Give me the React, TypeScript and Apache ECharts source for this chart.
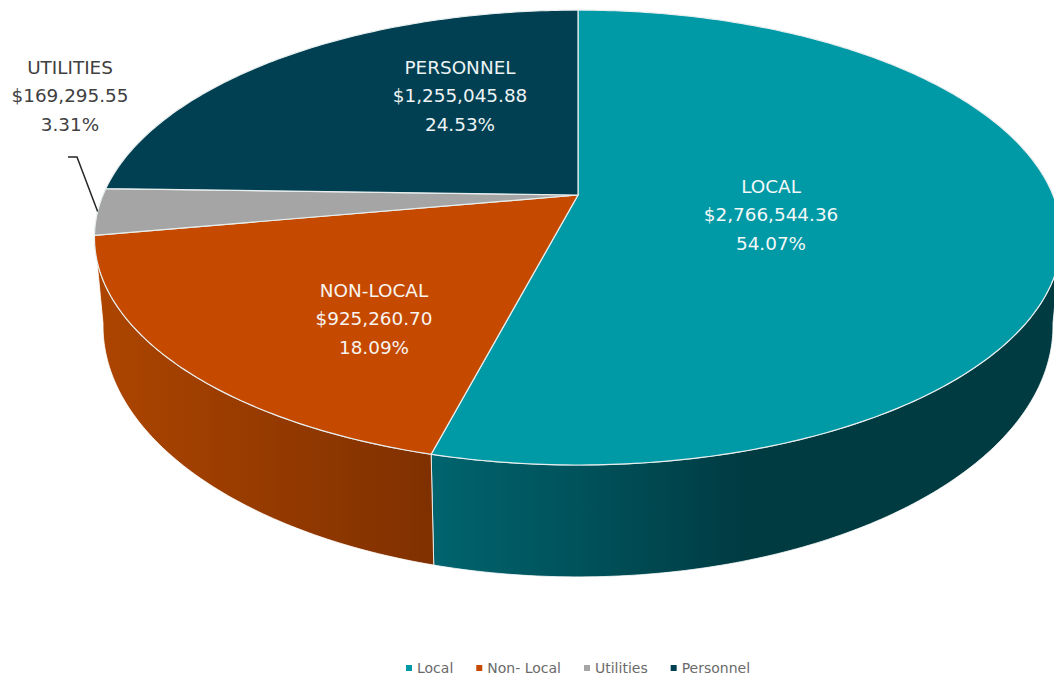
import React, { useEffect, useRef } from "react";
import * as echarts from "echarts";

const categories = ["Local", "Non- Local", "Utilities", "Personnel"];
const labelNames = ["LOCAL", "NON-LOCAL", "UTILITIES", "PERSONNEL"];
const amounts = [2766544.36, 925260.7, 169295.55, 1255045.88];
const amountLabels = ["$2,766,544.36", "$925,260.70", "$169,295.55", "$1,255,045.88"];
const percentLabels = ["54.07%", "18.09%", "3.31%", "24.53%"];
const topColors = ["#0099a6", "#c54a00", "#a5a5a5", "#004052"];
const wallStops: [number, string][][] = [
  [[0, "#00646e"], [0.27, "#004f58"], [0.5, "#003b42"], [1, "#003b42"]],
  [[0, "#ad4500"], [1, "#7f3000"]],
  [],
  [],
];
const labelAnchors = [[771, 186.5], [374, 290.5], [70, 67.5], [460, 67.5]];
const labelColors = ["#f4f8f8", "#f8f4f0", "#404040", "#eef3f4"];

const W = 1054;
const H = 678;
const PERSPECTIVE = -0.187;
const TOP_PLANE = { cx: 578, cy: 195, rx: 475, ry: 219.5 };
const BOTTOM_PLANE = { cx: 578, cy: 279, rx: 466.6, ry: 242.2 };
const FRONT_FROM = 100.2;
const FRONT_TO = 259.8;
const FONT = "DejaVu Sans";

type Plane = typeof TOP_PLANE;

function project(plane: Plane, deg: number): number[] {
  const a = (deg * Math.PI) / 180;
  const u = Math.sin(a);
  const v = -Math.cos(a);
  const d = 1 + PERSPECTIVE * v;
  return [plane.cx + (plane.rx * u) / d, plane.cy + (plane.ry * v) / d];
}

function arc(plane: Plane, from: number, to: number): number[][] {
  const n = Math.max(2, Math.ceil((to - from) / 0.75));
  const pts: number[][] = [];
  for (let i = 0; i <= n; i++) pts.push(project(plane, from + ((to - from) * i) / n));
  return pts;
}

const total = amounts.reduce((s, v) => s + v, 0);
const startDeg = (index: number) =>
  (amounts.slice(0, index).reduce((s, v) => s + v, 0) / total) * 360;

function renderSlice(index: number) {
  return () => {
    const from = startDeg(index);
    const to = startDeg(index + 1);
    const children: any[] = [];

    const wallFrom = Math.max(from, FRONT_FROM);
    const wallTo = Math.min(to, FRONT_TO);
    if (wallTo > wallFrom && wallStops[index].length) {
      const upper = arc(TOP_PLANE, wallFrom, wallTo);
      const lower = arc(BOTTOM_PLANE, wallFrom, wallTo).reverse();
      children.push({
        type: "polygon",
        shape: { points: upper.concat(lower) },
        style: {
          fill: new echarts.graphic.LinearGradient(
            0, 0, 1, 0,
            wallStops[index].map(([offset, color]) => ({ offset, color }))
          ),
          stroke: "#ffffff",
          lineWidth: 0.8,
        },
      });
    }

    children.push({
      type: "polygon",
      shape: { points: [[TOP_PLANE.cx, TOP_PLANE.cy]].concat(arc(TOP_PLANE, from, to)) },
      style: { fill: topColors[index], stroke: "#e8eeee", lineWidth: 1.2 },
    });

    if (categories[index] === "Utilities") {
      const tip = project(TOP_PLANE, (from + to) / 2);
      children.push({
        type: "polyline",
        shape: { points: [[68, 157], [77, 157], tip] },
        style: { fill: "none", stroke: "#262626", lineWidth: 1.5 },
      });
    }

    [labelNames[index], amountLabels[index], percentLabels[index]].forEach((text, line) => {
      children.push({
        type: "text",
        x: labelAnchors[index][0],
        y: labelAnchors[index][1] + line * 28.4,
        style: {
          text,
          fill: labelColors[index],
          fontFamily: FONT,
          fontSize: 18.4,
          align: "center",
          verticalAlign: "middle",
        },
      });
    });

    return { type: "group", children };
  };
}

export default function App() {
  const ref = useRef<HTMLDivElement>(null);
  useEffect(() => {
    const chart = echarts.init(ref.current!, undefined, { renderer: "svg" });
    chart.setOption({
      animation: false,
      backgroundColor: "#ffffff",
      legend: {
        data: categories,
        left: 401,
        top: 656,
        icon: "rect",
        itemWidth: 6,
        itemHeight: 6,
        itemGap: 23,
        selectedMode: false,
        textStyle: { fontFamily: FONT, fontSize: 14, color: "#6a6a6a" },
      },
      series: categories.map((name, i) => ({
        type: "custom",
        name,
        coordinateSystem: "none",
        silent: true,
        itemStyle: { color: topColors[i] },
        data: [[amounts[i]]],
        renderItem: renderSlice(i),
      })),
    });
    return () => chart.dispose();
  }, []);
  return (
    <div
      ref={ref}
      style={{ position: "absolute", left: 0, top: 0, width: W, height: H, overflow: "hidden" }}
    />
  );
}
